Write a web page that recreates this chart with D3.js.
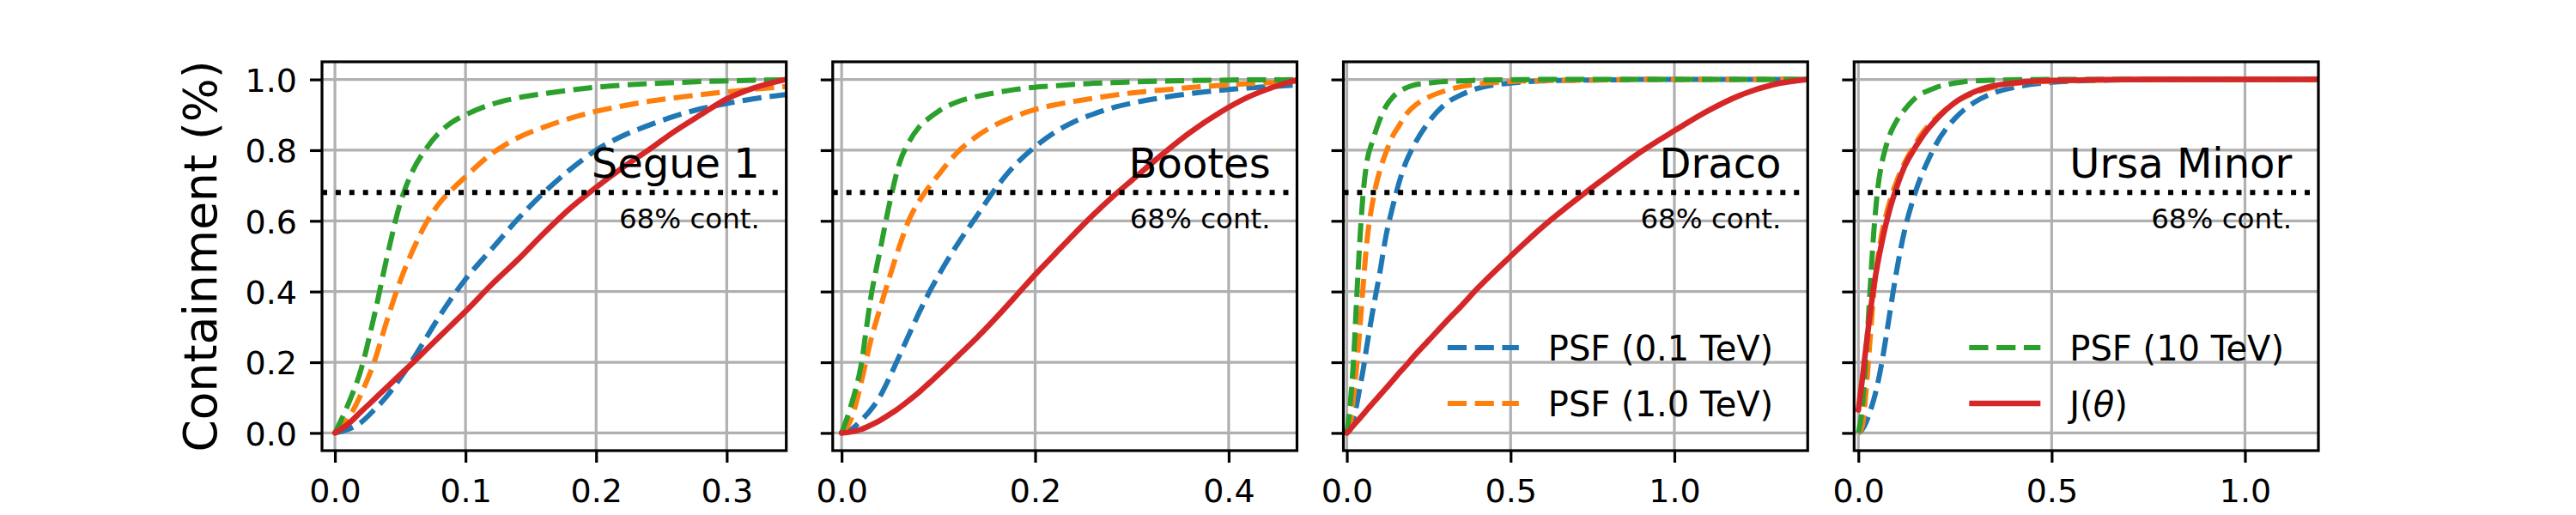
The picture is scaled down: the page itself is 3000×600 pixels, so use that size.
<!DOCTYPE html>
<html>
<head>
<meta charset="utf-8">
<script src="https://cdn.jsdelivr.net/npm/d3@7"></script>
<style>
  html, body { margin: 0; padding: 0; background: #ffffff; }
  svg { display: block; font-family: "DejaVu Sans", sans-serif; }
</style>
</head>
<body>
<svg id="chart" width="3000" height="600"></svg>
<script>
// ---------------- data ----------------
const panelNames = ["Segue 1", "Bootes", "Draco", "Ursa Minor"];
const seriesLabels = ["PSF (0.1 TeV)", "PSF (1.0 TeV)", "PSF (10 TeV)", "J(θ)"];
const seriesColors = ["#1f77b4", "#ff7f0e", "#2ca02c", "#d62728"];
const yLabel = "Containment (%)";
const containmentLevel = 0.68;
const containmentText = "68% cont.";
const yTickValues = [0.0, 0.2, 0.4, 0.6, 0.8, 1.0];
const xTickValues = [[0.0, 0.1, 0.2, 0.3], [0.0, 0.2, 0.4], [0.0, 0.5, 1.0], [0.0, 0.5, 1.0]];
const xLimits = [[-0.0099, 0.3456], [-0.0092, 0.4706], [-0.0105, 1.407], [-0.011, 1.19]];
const yLimits = [-0.05, 1.05];

// Segue 1
const segueTheta = [0, 0.01, 0.02, 0.03, 0.04, 0.05, 0.06, 0.07, 0.08, 0.09, 0.10, 0.12, 0.14, 0.16, 0.18, 0.20, 0.22, 0.24, 0.26, 0.28, 0.30, 0.32, 0.345];
const seguePsf01 = [0, 0.01, 0.03, 0.065, 0.105, 0.155, 0.21, 0.27, 0.33, 0.385, 0.435, 0.52, 0.605, 0.68, 0.745, 0.80, 0.84, 0.87, 0.896, 0.917, 0.932, 0.945, 0.957];
const seguePsf1 = [0, 0.04, 0.11, 0.2, 0.32, 0.43, 0.52, 0.595, 0.65, 0.69, 0.725, 0.79, 0.835, 0.865, 0.89, 0.91, 0.925, 0.938, 0.948, 0.957, 0.965, 0.972, 0.98];
const seguePsf10 = [0, 0.08, 0.18, 0.33, 0.5, 0.65, 0.745, 0.805, 0.85, 0.88, 0.9, 0.93, 0.948, 0.96, 0.97, 0.978, 0.984, 0.988, 0.991, 0.994, 0.996, 0.998, 0.999];
const segueJ = [0, 0.025, 0.06, 0.095, 0.13, 0.165, 0.2, 0.236, 0.272, 0.308, 0.344, 0.42, 0.49, 0.565, 0.635, 0.695, 0.75, 0.80, 0.853, 0.9, 0.945, 0.975, 1.0];

// Bootes
const bootesTheta = [0, 0.01, 0.02, 0.03, 0.04, 0.05, 0.06, 0.07, 0.08, 0.09, 0.10, 0.12, 0.14, 0.16, 0.18, 0.20, 0.22, 0.24, 0.26, 0.28, 0.30, 0.33, 0.36, 0.39, 0.42, 0.45, 0.472];
const bootesPsf01 = [0, 0.01, 0.035, 0.065, 0.105, 0.16, 0.22, 0.28, 0.34, 0.395, 0.445, 0.535, 0.615, 0.695, 0.76, 0.81, 0.85, 0.88, 0.902, 0.92, 0.933, 0.948, 0.96, 0.969, 0.976, 0.981, 0.985];
const bootesPsf1 = [0, 0.04, 0.14, 0.26, 0.355, 0.445, 0.53, 0.605, 0.655, 0.695, 0.73, 0.795, 0.84, 0.873, 0.897, 0.915, 0.928, 0.938, 0.947, 0.955, 0.962, 0.97, 0.977, 0.983, 0.988, 0.992, 0.995];
const bootesPsf10 = [0, 0.08, 0.19, 0.38, 0.52, 0.655, 0.765, 0.825, 0.865, 0.89, 0.91, 0.937, 0.952, 0.963, 0.972, 0.978, 0.982, 0.986, 0.989, 0.991, 0.993, 0.995, 0.997, 0.998, 0.999, 0.999, 1.0];
const bootesJ = [0, 0.003, 0.01, 0.022, 0.036, 0.053, 0.072, 0.093, 0.115, 0.14, 0.165, 0.217, 0.27, 0.327, 0.387, 0.448, 0.505, 0.562, 0.617, 0.668, 0.715, 0.785, 0.85, 0.905, 0.95, 0.982, 1.0];

// Draco
const dracoTheta = [0, 0.01, 0.02, 0.03, 0.04, 0.05, 0.06, 0.08, 0.10, 0.12, 0.14, 0.16, 0.18, 0.2, 0.25, 0.3, 0.35, 0.4, 0.5, 0.6, 0.7, 0.8, 0.9, 1.0, 1.1, 1.2, 1.3, 1.407];
const dracoPsf01 = [0, 0.01, 0.04, 0.08, 0.13, 0.18, 0.24, 0.35, 0.45, 0.56, 0.64, 0.71, 0.765, 0.805, 0.88, 0.93, 0.957, 0.975, 0.99, 0.996, 0.998, 0.999, 1, 1, 1, 1, 1, 1];
const dracoPsf1 = [0, 0.02, 0.1, 0.19, 0.3, 0.42, 0.53, 0.66, 0.74, 0.795, 0.84, 0.87, 0.9, 0.92, 0.95, 0.968, 0.98, 0.987, 0.994, 0.997, 0.998, 0.999, 1, 1, 1, 1, 1, 1];
const dracoPsf10 = [0, 0.08, 0.2, 0.38, 0.55, 0.68, 0.76, 0.83, 0.885, 0.925, 0.95, 0.966, 0.976, 0.983, 0.99, 0.994, 0.996, 0.998, 0.999, 1, 1, 1, 1, 1, 1, 1, 1, 1];
const dracoJ = [0, 0.01, 0.021, 0.032, 0.042, 0.053, 0.064, 0.085, 0.106, 0.127, 0.148, 0.17, 0.19, 0.212, 0.262, 0.312, 0.36, 0.41, 0.5, 0.585, 0.66, 0.73, 0.797, 0.855, 0.91, 0.955, 0.985, 1.0];

// Ursa Minor
const umiTheta = [0, 0.01, 0.02, 0.03, 0.04, 0.05, 0.06, 0.07, 0.08, 0.09, 0.10, 0.12, 0.14, 0.16, 0.18, 0.2, 0.25, 0.3, 0.35, 0.4, 0.5, 0.6, 0.7, 0.8, 0.9, 1.0, 1.1, 1.19];
const umiPsf01 = [0, 0.01, 0.03, 0.06, 0.095, 0.14, 0.195, 0.26, 0.33, 0.4, 0.465, 0.575, 0.655, 0.72, 0.77, 0.815, 0.89, 0.935, 0.962, 0.977, 0.992, 0.997, 0.999, 1, 1, 1, 1, 1];
const umiPsf1 = [0, 0.02, 0.12, 0.26, 0.4, 0.49, 0.56, 0.61, 0.65, 0.685, 0.715, 0.765, 0.805, 0.84, 0.868, 0.89, 0.935, 0.962, 0.978, 0.988, 0.995, 0.998, 0.999, 1, 1, 1, 1, 1];
const umiPsf10 = [0, 0.07, 0.22, 0.4, 0.57, 0.69, 0.76, 0.805, 0.84, 0.865, 0.885, 0.915, 0.94, 0.958, 0.968, 0.977, 0.99, 0.996, 0.998, 0.999, 1, 1, 1, 1, 1, 1, 1, 1];
const umiJ = [0.065, 0.15, 0.245, 0.335, 0.415, 0.48, 0.535, 0.585, 0.628, 0.665, 0.698, 0.755, 0.795, 0.83, 0.86, 0.885, 0.935, 0.965, 0.982, 0.99, 0.997, 0.999, 1, 1, 1, 1, 1, 1];

const panelTheta = [segueTheta, bootesTheta, dracoTheta, umiTheta];
const panelSeries = [
  [seguePsf01, seguePsf1, seguePsf10, segueJ],
  [bootesPsf01, bootesPsf1, bootesPsf10, bootesJ],
  [dracoPsf01, dracoPsf1, dracoPsf10, dracoJ],
  [umiPsf01, umiPsf1, umiPsf10, umiJ]
];
// which series go in each panel's legend
const legendSeries = [[], [], [0, 1], [2, 3]];

// ---------------- layout ----------------
const figLeft = 375, figRight = 2700, axTop = 72, axBottom = 525;
const nPanels = 4, wspace = 0.1;
const panelW = (figRight - figLeft) / (nPanels + (nPanels - 1) * wspace);
const gap = panelW * wspace;
const tickFont = 38, labelFont = 53.5, titleFont = 48, noteFont = 32.5, legendFont = 40;
const lw = 6, gridW = 3.2, spineW = 3.2, tickLen = 14;

const svg = d3.select("#chart");
const yScale = d3.scaleLinear().domain(yLimits).range([axBottom, axTop]);

panelNames.forEach((name, p) => {
  const x0 = figLeft + p * (panelW + gap);
  const xScale = d3.scaleLinear().domain(xLimits[p]).range([x0, x0 + panelW]);
  const g = svg.append("g");

  const clipId = "clip" + p;
  svg.append("defs").append("clipPath").attr("id", clipId)
    .append("rect").attr("x", x0).attr("y", axTop).attr("width", panelW).attr("height", axBottom - axTop);

  // grid
  g.append("g").selectAll("line").data(xTickValues[p]).join("line")
    .attr("x1", d => xScale(d)).attr("x2", d => xScale(d))
    .attr("y1", axTop).attr("y2", axBottom)
    .attr("stroke", "#b0b0b0").attr("stroke-width", gridW);
  g.append("g").selectAll("line").data(yTickValues).join("line")
    .attr("x1", x0).attr("x2", x0 + panelW)
    .attr("y1", d => yScale(d)).attr("y2", d => yScale(d))
    .attr("stroke", "#b0b0b0").attr("stroke-width", gridW);

  // curves
  const plot = g.append("g").attr("clip-path", `url(#${clipId})`);
  const theta = panelTheta[p];
  panelSeries[p].forEach((vals, s) => {
    const line = d3.line().x((d, i) => xScale(theta[i])).y(d => yScale(d)).curve(d3.curveMonotoneX);
    plot.append("path").datum(vals)
      .attr("d", line)
      .attr("fill", "none")
      .attr("stroke", seriesColors[s])
      .attr("stroke-width", s === 3 ? 6.5 : lw)
      .attr("stroke-linejoin", "round")
      .attr("stroke-linecap", s === 3 ? "round" : "butt")
      .attr("stroke-dasharray", s === 3 ? null : "22.2,9.6");
  });

  // 68% containment line
  plot.append("line")
    .attr("x1", x0).attr("x2", x0 + panelW)
    .attr("y1", yScale(containmentLevel)).attr("y2", yScale(containmentLevel))
    .attr("stroke", "#000").attr("stroke-width", lw)
    .attr("stroke-dasharray", "6,9.9");

  // texts
  const textX = x0 + 0.943 * panelW;
  g.append("text").attr("x", textX).attr("y", yScale(0.723))
    .attr("text-anchor", "end").attr("font-size", titleFont).attr("fill", "#000")
    .text(name);
  g.append("text").attr("x", textX).attr("y", yScale(0.58))
    .attr("text-anchor", "end").attr("font-size", noteFont).attr("fill", "#000")
    .text(containmentText);

  // axes
  const xAxis = d3.axisBottom(xScale).tickValues(xTickValues[p])
    .tickFormat(d3.format(".1f")).tickSize(tickLen).tickPadding(19);
  const xa = g.append("g").attr("transform", `translate(0,${axBottom})`).call(xAxis);
  xa.select(".domain").remove();
  xa.selectAll(".tick line").attr("stroke", "#000").attr("stroke-width", spineW);
  xa.selectAll(".tick text").attr("font-size", tickFont).attr("font-family", "DejaVu Sans").attr("fill", "#000");

  const yAxis = d3.axisLeft(yScale).tickValues(yTickValues)
    .tickFormat(p === 0 ? d3.format(".1f") : () => "").tickSize(tickLen).tickPadding(15);
  const ya = g.append("g").attr("transform", `translate(${x0},0)`).call(yAxis);
  ya.select(".domain").remove();
  ya.selectAll(".tick line").attr("stroke", "#000").attr("stroke-width", spineW);
  ya.selectAll(".tick text").attr("font-size", tickFont).attr("font-family", "DejaVu Sans")
    .attr("fill", "#000").attr("dy", "0.36em");

  // spines
  g.append("rect").attr("x", x0).attr("y", axTop).attr("width", panelW).attr("height", axBottom - axTop)
    .attr("fill", "none").attr("stroke", "#000").attr("stroke-width", spineW);

  // legend
  const items = legendSeries[p];
  if (items.length) {
    const lg = g.append("g");
    const texts = items.map((s, k) => {
      const t = lg.append("text").attr("font-size", legendFont).attr("fill", "#000");
      if (seriesLabels[s] === "J(θ)") {
        t.append("tspan").text("J(");
        t.append("tspan").attr("font-style", "italic").text("θ");
        t.append("tspan").text(")");
      } else {
        t.text(seriesLabels[s]);
      }
      return t;
    });
    const maxW = d3.max(texts, t => t.node().getComputedTextLength());
    const textLeft = x0 + panelW - 40 - maxW;
    const handleR = textLeft - 34, handleL = handleR - 83;
    const rowY = [405, 470];
    items.forEach((s, k) => {
      texts[k].attr("x", textLeft).attr("y", rowY[k] + 15);
      lg.append("line").attr("x1", handleL).attr("x2", handleR)
        .attr("y1", rowY[k]).attr("y2", rowY[k])
        .attr("stroke", seriesColors[s]).attr("stroke-width", s === 3 ? 6.5 : lw)
        .attr("stroke-dasharray", s === 3 ? null : "22.2,9.6");
    });
  }
});

// y label
svg.append("text")
  .attr("transform", `translate(252,${(axTop + axBottom) / 2}) rotate(-90)`)
  .attr("text-anchor", "middle").attr("font-size", labelFont).attr("fill", "#000")
  .text(yLabel);
</script>
</body>
</html>
